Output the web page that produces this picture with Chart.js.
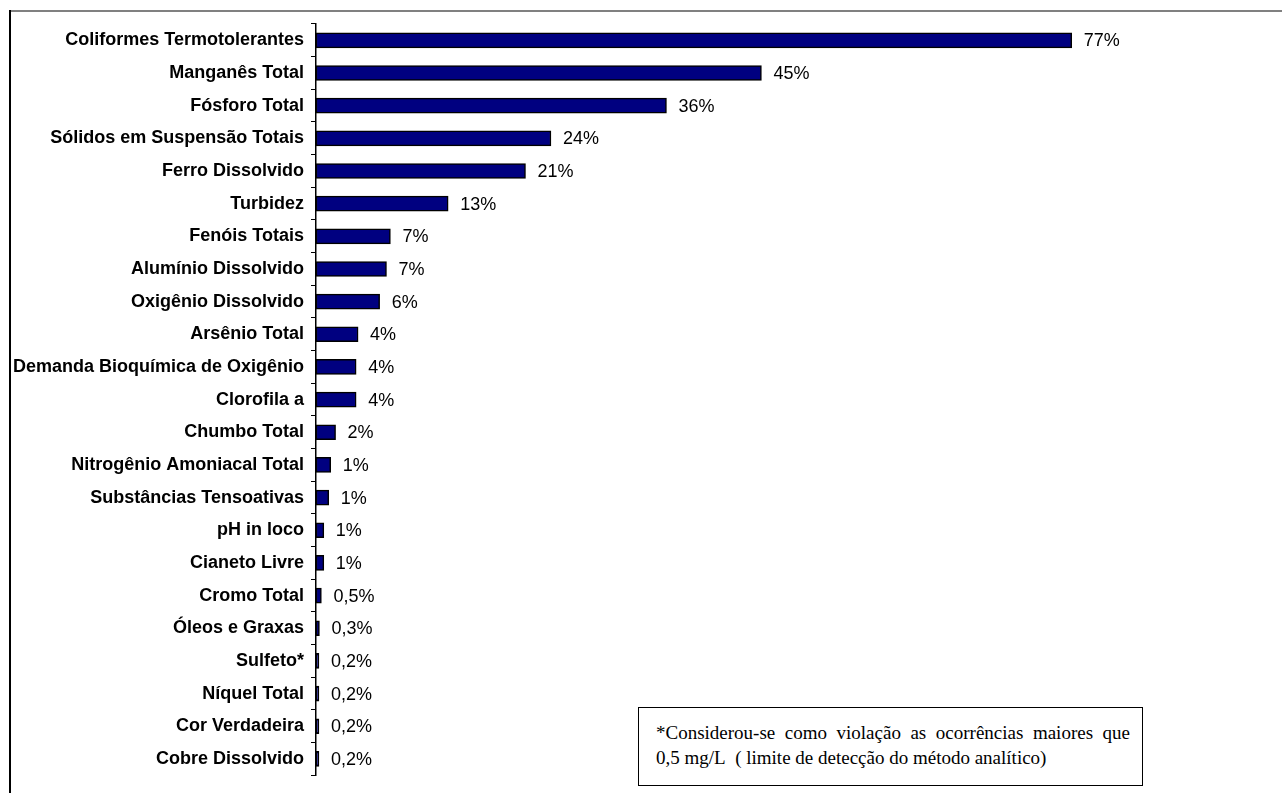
<!DOCTYPE html>
<html>
<head>
<meta charset="utf-8">
<script src="https://cdn.jsdelivr.net/npm/chart.js@4.4.1/dist/chart.umd.min.js"></script>
<style>
  html, body { margin: 0; padding: 0; background: #fff; }
  #wrap { position: relative; width: 1282px; height: 793px; overflow: hidden; }
  #frameTop { position: absolute; left: 9px; top: 10px; width: 1273px; height: 2px; background: #808080; }
  #frameLeft { position: absolute; left: 9px; top: 10px; width: 2px; height: 783px; background: #000; }
  canvas { position: absolute; left: 0; top: 0; }
  #note {
    position: absolute; left: 638px; top: 707px; width: 505px; height: 79px;
    box-sizing: border-box; border: 1.5px solid #000; background: #fff;
    padding: 12px 12px 0 17px;
    font-family: "Liberation Serif", "Times New Roman", serif; font-size: 19px; line-height: 25px;
    color: #000; white-space: nowrap;
  }
  #note .l1 { text-align: justify; text-align-last: justify; }
</style>
</head>
<body>
<div id="wrap">
  <canvas id="c" width="1282" height="793"></canvas>
  <div id="frameTop"></div>
  <div id="frameLeft"></div>
  <div id="note"><div class="l1">*Considerou-se como violação as ocorrências maiores que</div><div>0,5 mg/L&nbsp; ( limite de detecção do método analítico)</div></div>
</div>
<script>
const categories = [
  "Coliformes Termotolerantes", "Manganês Total", "Fósforo Total", "Sólidos em Suspensão Totais",
  "Ferro Dissolvido", "Turbidez", "Fenóis Totais", "Alumínio Dissolvido", "Oxigênio Dissolvido",
  "Arsênio Total", "Demanda Bioquímica de Oxigênio", "Clorofila a", "Chumbo Total",
  "Nitrogênio Amoniacal Total", "Substâncias Tensoativas", "pH in loco", "Cianeto Livre",
  "Cromo Total", "Óleos e Graxas", "Sulfeto*", "Níquel Total", "Cor Verdadeira", "Cobre Dissolvido"
];
const values = [77.2, 45.5, 35.8, 24.0, 21.4, 13.5, 7.6, 7.2, 6.5, 4.3, 4.1, 4.1, 2.0, 1.5, 1.3, 0.8, 0.8, 0.55, 0.35, 0.3, 0.3, 0.3, 0.3];
const valueLabels = ["77%", "45%", "36%", "24%", "21%", "13%", "7%", "7%", "6%", "4%", "4%", "4%", "2%", "1%", "1%", "1%", "1%", "0,5%", "0,3%", "0,2%", "0,2%", "0,2%", "0,2%"];

const AXIS_LEFT = 316;
const PX_PER_UNIT = 9.786;
const X_MAX = 95;

const valueLabelPlugin = {
  id: 'valueLabels',
  afterDatasetsDraw(chart) {
    const ctx = chart.ctx;
    const meta = chart.getDatasetMeta(0);
    ctx.save();
    ctx.font = '18px "Liberation Sans", Arial, sans-serif';
    ctx.fillStyle = '#000';
    ctx.textAlign = 'left';
    ctx.textBaseline = 'middle';
    meta.data.forEach((bar, i) => {
      ctx.fillText(valueLabels[i], bar.x + 12, bar.y + 1);
    });
    ctx.restore();
  }
};

new Chart(document.getElementById('c'), {
  type: 'bar',
  data: {
    labels: categories,
    datasets: [{
      data: values,
      backgroundColor: '#000080',
      borderColor: '#000000',
      borderWidth: 1.5,
      borderSkipped: false,
      barThickness: 15,
      categoryPercentage: 1,
      barPercentage: 1
    }]
  },
  options: {
    indexAxis: 'y',
    responsive: false,
    animation: false,
    devicePixelRatio: 1,
    layout: { padding: { top: 24, bottom: 2, left: 0, right: 1282 - AXIS_LEFT - Math.round(X_MAX * PX_PER_UNIT) } },
    plugins: { legend: { display: false }, tooltip: { enabled: false } },
    scales: {
      x: { display: false, min: 0, max: X_MAX },
      y: {
        offset: true,
        afterFit(scale) { scale.width = AXIS_LEFT; },
        grid: { drawOnChartArea: false, drawTicks: true, tickLength: 5, offset: true, color: '#000', lineWidth: 1 },
        border: { display: true, color: '#000', width: 1.5 },
        ticks: {
          color: '#000',
          padding: 7,
          autoSkip: false,
          font: { family: '"Liberation Sans", Arial, sans-serif', size: 18, weight: 'bold' }
        }
      }
    }
  },
  plugins: [valueLabelPlugin]
});
</script>
</body>
</html>
